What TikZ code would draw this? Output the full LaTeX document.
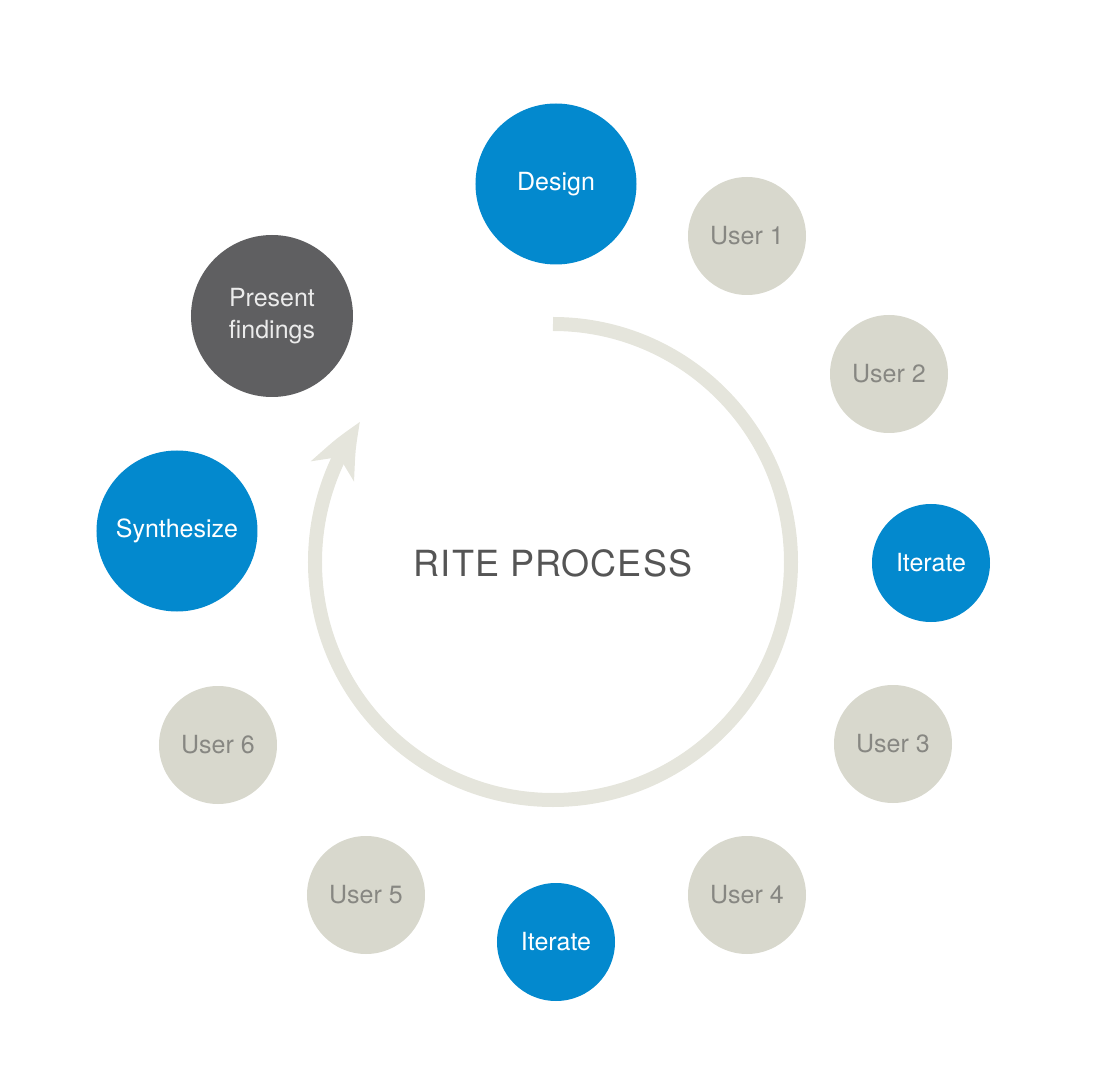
\documentclass[tikz,border=0pt]{standalone}
\usepackage{fontspec}
\setmainfont{TeX Gyre Heros}
\usetikzlibrary{positioning,arrows.meta,bending}

\definecolor{riteblue}{RGB}{3,137,206}
\definecolor{usergrey}{RGB}{216,216,205}
\definecolor{usertext}{RGB}{135,135,130}
\definecolor{darkgrey}{RGB}{95,95,97}
\definecolor{loopgrey}{RGB}{229,229,220}
\definecolor{titlegrey}{RGB}{85,85,85}

\begin{document}
\begin{tikzpicture}[
	x=1pt,y=1pt,
	basenode/.style={circle,inner sep=0pt,align=center,font=\fontsize{25}{32}\selectfont},
	bluenode/.style={basenode,fill=riteblue,text=white,minimum size=161pt},
	darknode/.style={basenode,fill=darkgrey,text=white!92!black,minimum size=162pt},
	usernode/.style={basenode,fill=usergrey,text=usertext,minimum size=118pt},
	ritecycle/.style={draw=loopgrey,line width=14pt,-{Stealth[length=56pt,width=46pt,inset=15pt,bend]}}
	]
	\useasboundingbox (-553,-522) rectangle (547,562);
	\node[bluenode] (design) at (3,378) {Design};
	\node[usernode] (user1) at (194,326) {User 1};
	\node[usernode] (user2) at (336,188) {User 2};
	\node[bluenode,minimum size=118pt] (iterR) at (378,-1) {Iterate};
	\node[usernode] (user3) at (340,-182) {User 3};
	\node[usernode] (user4) at (194,-333) {User 4};
	\node[bluenode,minimum size=118pt] (iterB) at (3,-380) {Iterate};
	\node[usernode] (user5) at (-187,-333) {User 5};
	\node[usernode] (user6) at (-335,-183) {User 6};
	\node[bluenode] (synth) at (-376,31) {Synthesize};
	\node[darknode] (present) at (-281,246) {Present\\findings};
	\node[text=titlegrey,font=\fontsize{36}{40}\selectfont\addfontfeature{LetterSpace=3}] (title) at (0,-1) {RITE PROCESS};
	\coordinate (cyclestart) at (0,238);
	\draw[ritecycle] (cyclestart) arc[start angle=90,end angle=-216,radius=238];
\end{tikzpicture}
\end{document}
